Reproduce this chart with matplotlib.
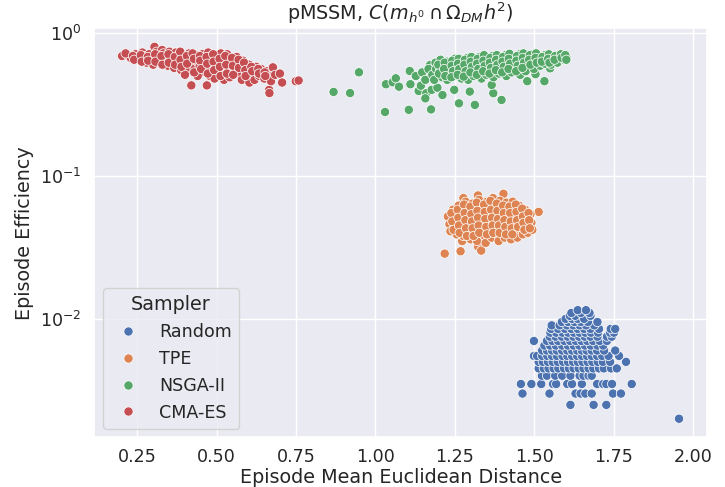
import numpy as np
import pandas as pd
import seaborn as sns
import matplotlib
matplotlib.use('Agg')
import matplotlib.pyplot as plt

# values (x = mean euclidean distance, y = efficiency)

# Random: discrete efficiency levels, x positions on each level
random_levels = [0.002, 0.0025, 0.003, 0.0035, 0.004, 0.0045, 0.005, 0.0055, 0.006,
                 0.0065, 0.007, 0.0075, 0.008, 0.0085, 0.009, 0.0095, 0.01, 0.0105,
                 0.011, 0.0115]
random_rows = [
    [1.956],
    [1.614, 1.687, 1.727],
    [1.463, 1.548, 1.630, 1.646, 1.661, 1.681, 1.748, 1.773],
    [1.458, 1.491, 1.522, 1.559, 1.569, 1.604, 1.619, 1.650, 1.698, 1.717, 1.727, 1.745, 1.807],
    [1.524, 1.540, 1.566, 1.588, 1.614, 1.643, 1.655, 1.671, 1.681],
    [1.514, 1.530, 1.545, 1.561, 1.576, 1.594, 1.609, 1.624, 1.640, 1.655, 1.671, 1.686,
     1.704, 1.719, 1.742, 1.760],
    [1.514, 1.527, 1.543, 1.558, 1.574, 1.591, 1.606, 1.622, 1.637, 1.652, 1.668, 1.683,
     1.700, 1.716, 1.739, 1.789],
    [1.499, 1.509, 1.525, 1.541, 1.556, 1.571, 1.589, 1.604, 1.619, 1.635, 1.650, 1.666,
     1.681, 1.698, 1.714, 1.734, 1.767],
    [1.525, 1.540, 1.556, 1.571, 1.588, 1.604, 1.619, 1.635, 1.650, 1.665, 1.681, 1.698,
     1.720, 1.755],
    [1.532, 1.550, 1.568, 1.588, 1.606, 1.624, 1.642, 1.660, 1.678, 1.699, 1.717],
    [1.499, 1.540, 1.557, 1.575, 1.595, 1.613, 1.631, 1.649, 1.667, 1.685, 1.706, 1.729],
    [1.549, 1.567, 1.587, 1.605, 1.623, 1.641, 1.659, 1.677, 1.699, 1.729, 1.744],
    [1.551, 1.569, 1.589, 1.607, 1.625, 1.643, 1.661, 1.679, 1.701, 1.739, 1.751],
    [1.553, 1.575, 1.597, 1.617, 1.637, 1.657, 1.677, 1.704, 1.741, 1.755],
    [1.555, 1.580, 1.603, 1.623, 1.643, 1.663, 1.689],
    [1.587, 1.607, 1.627, 1.647, 1.669, 1.699],
    [1.599, 1.619, 1.637, 1.657],
    [1.612, 1.629, 1.677],
    [1.617, 1.647, 1.674],
    [1.637, 1.663],
]

tpe_pts = [
    (1.218, 0.0286), (1.268, 0.0297), (1.273, 0.035), (1.323, 0.032), (1.333, 0.030),
    (1.514, 0.056), (1.403, 0.075), (1.323, 0.073), (1.277, 0.070),
    (1.228, 0.052), (1.233, 0.046), (1.236, 0.041), (1.244, 0.058), (1.249, 0.050),
    (1.252, 0.044), (1.256, 0.039), (1.262, 0.062), (1.266, 0.055), (1.269, 0.048),
    (1.273, 0.043), (1.277, 0.038), (1.284, 0.066), (1.287, 0.058), (1.290, 0.052),
    (1.293, 0.046), (1.296, 0.041), (1.300, 0.036), (1.305, 0.064), (1.308, 0.057),
    (1.311, 0.050), (1.314, 0.045), (1.317, 0.040), (1.320, 0.035), (1.326, 0.068),
    (1.329, 0.060), (1.335, 0.054), (1.338, 0.048), (1.341, 0.043), (1.344, 0.038),
    (1.347, 0.034), (1.351, 0.066), (1.354, 0.059), (1.357, 0.052), (1.360, 0.047),
    (1.363, 0.042), (1.366, 0.037), (1.370, 0.070), (1.373, 0.062), (1.376, 0.055),
    (1.379, 0.049), (1.382, 0.044), (1.385, 0.039), (1.388, 0.035), (1.392, 0.067),
    (1.395, 0.060), (1.398, 0.053), (1.401, 0.047), (1.404, 0.042), (1.407, 0.037),
    (1.412, 0.065), (1.415, 0.058), (1.418, 0.051), (1.421, 0.046), (1.424, 0.041),
    (1.427, 0.036), (1.432, 0.066), (1.435, 0.059), (1.438, 0.052), (1.441, 0.046),
    (1.444, 0.041), (1.447, 0.037), (1.452, 0.062), (1.455, 0.055), (1.458, 0.049),
    (1.461, 0.044), (1.464, 0.039), (1.471, 0.058), (1.474, 0.051), (1.477, 0.045),
    (1.480, 0.040), (1.488, 0.054), (1.491, 0.047), (1.494, 0.042),
    (1.239, 0.055), (1.242, 0.048), (1.246, 0.042), (1.259, 0.058), (1.261, 0.051),
    (1.263, 0.045), (1.265, 0.040), (1.279, 0.063), (1.281, 0.055), (1.283, 0.049),
    (1.285, 0.043), (1.288, 0.038), (1.299, 0.061), (1.302, 0.054), (1.304, 0.048),
    (1.306, 0.043), (1.309, 0.038), (1.319, 0.065), (1.321, 0.057), (1.323, 0.051),
    (1.325, 0.045), (1.327, 0.040), (1.342, 0.063), (1.344, 0.056), (1.346, 0.050),
    (1.349, 0.044), (1.351, 0.039), (1.362, 0.067), (1.364, 0.058), (1.367, 0.051),
    (1.369, 0.045), (1.371, 0.040), (1.382, 0.064), (1.384, 0.057), (1.386, 0.050),
    (1.389, 0.045), (1.391, 0.040), (1.402, 0.062), (1.404, 0.055), (1.406, 0.049),
    (1.409, 0.044), (1.411, 0.039), (1.422, 0.061), (1.424, 0.055), (1.426, 0.048),
    (1.429, 0.043), (1.431, 0.039), (1.442, 0.063), (1.444, 0.056), (1.446, 0.049),
    (1.449, 0.044), (1.462, 0.059), (1.464, 0.052), (1.466, 0.047), (1.469, 0.042),
    (1.482, 0.055), (1.484, 0.049), (1.486, 0.043),
]

nsga_pts = [
    # sparse points on the left and below the main band
    (0.868, 0.387), (0.920, 0.380), (0.948, 0.531), (1.030, 0.280), (1.105, 0.290),
    (1.175, 0.292), (1.263, 0.322), (1.313, 0.314), (1.033, 0.438), (1.054, 0.452),
    (1.064, 0.482), (1.074, 0.421), (1.108, 0.542), (1.110, 0.438), (1.136, 0.393),
    (1.143, 0.428), (1.160, 0.379), (1.157, 0.349), (1.177, 0.400), (1.195, 0.414),
    (1.211, 0.368), (1.172, 0.597), (1.248, 0.400), (1.297, 0.389), (1.371, 0.379),
    (1.397, 0.340), (1.366, 0.433), (1.478, 0.460), (1.532, 0.460), (1.504, 0.515),
    (1.550, 0.566), (1.127, 0.500), (1.147, 0.530), (1.157, 0.470), (1.167, 0.560),
    (1.179, 0.510),
    # main band
    (1.189, 0.620), (1.191, 0.560), (1.185, 0.470), (1.205, 0.650), (1.208, 0.590),
    (1.203, 0.540), (1.210, 0.490), (1.225, 0.630), (1.233, 0.570), (1.236, 0.520),
    (1.226, 0.470), (1.250, 0.660), (1.253, 0.600), (1.255, 0.550), (1.249, 0.500),
    (1.269, 0.640), (1.273, 0.580), (1.275, 0.530), (1.271, 0.480), (1.290, 0.670),
    (1.293, 0.610), (1.288, 0.560), (1.294, 0.510), (1.292, 0.470), (1.310, 0.650),
    (1.313, 0.600), (1.315, 0.550), (1.309, 0.500), (1.329, 0.680), (1.333, 0.630),
    (1.335, 0.580), (1.330, 0.530), (1.334, 0.480), (1.350, 0.660), (1.353, 0.610),
    (1.355, 0.560), (1.349, 0.510), (1.369, 0.690), (1.373, 0.640), (1.370, 0.590),
    (1.375, 0.540), (1.372, 0.490), (1.390, 0.670), (1.393, 0.620), (1.395, 0.570),
    (1.389, 0.520), (1.410, 0.700), (1.413, 0.650), (1.409, 0.600), (1.415, 0.550),
    (1.412, 0.500), (1.430, 0.680), (1.437, 0.630), (1.439, 0.580), (1.429, 0.530),
    (1.454, 0.710), (1.457, 0.660), (1.453, 0.610), (1.459, 0.560), (1.456, 0.510),
    (1.474, 0.690), (1.477, 0.640), (1.479, 0.590), (1.473, 0.540), (1.494, 0.710),
    (1.497, 0.660), (1.493, 0.610), (1.499, 0.560), (1.514, 0.690), (1.517, 0.640),
    (1.519, 0.590), (1.534, 0.700), (1.537, 0.660), (1.533, 0.610), (1.554, 0.680),
    (1.557, 0.640), (1.553, 0.600), (1.574, 0.700), (1.577, 0.660), (1.573, 0.620),
    (1.591, 0.690), (1.594, 0.650), (1.602, 0.670),
    (1.198, 0.600), (1.200, 0.520), (1.218, 0.620), (1.216, 0.560), (1.220, 0.500),
    (1.242, 0.640), (1.240, 0.590), (1.244, 0.540), (1.239, 0.490), (1.262, 0.660),
    (1.260, 0.610), (1.264, 0.560), (1.259, 0.510), (1.282, 0.650), (1.280, 0.600),
    (1.284, 0.540), (1.278, 0.495), (1.302, 0.680), (1.300, 0.630), (1.304, 0.580),
    (1.299, 0.530), (1.322, 0.660), (1.320, 0.610), (1.324, 0.560), (1.319, 0.510),
    (1.342, 0.700), (1.340, 0.640), (1.344, 0.590), (1.339, 0.540), (1.362, 0.670),
    (1.360, 0.620), (1.364, 0.570), (1.359, 0.520), (1.382, 0.700), (1.380, 0.650),
    (1.384, 0.600), (1.379, 0.550), (1.402, 0.680), (1.400, 0.630), (1.404, 0.580),
    (1.399, 0.530), (1.422, 0.715), (1.420, 0.660), (1.424, 0.610), (1.419, 0.560),
    (1.446, 0.690), (1.444, 0.640), (1.448, 0.590), (1.443, 0.540), (1.466, 0.720),
    (1.464, 0.670), (1.468, 0.620), (1.463, 0.570), (1.486, 0.700), (1.484, 0.650),
    (1.488, 0.600), (1.506, 0.720), (1.504, 0.670), (1.508, 0.620), (1.526, 0.680),
    (1.524, 0.630), (1.546, 0.710), (1.544, 0.660), (1.548, 0.620), (1.566, 0.690),
    (1.564, 0.650), (1.584, 0.710), (1.586, 0.670), (1.598, 0.700), (1.601, 0.650),
]

cma_pts = [
    (0.202, 0.69), (0.220, 0.70), (0.229, 0.67), (0.244, 0.71), (0.251, 0.68),
    (0.257, 0.65), (0.266, 0.73), (0.270, 0.69), (0.276, 0.66), (0.279, 0.62),
    (0.287, 0.71), (0.292, 0.67), (0.296, 0.64), (0.300, 0.60), (0.304, 0.80),
    (0.311, 0.74), (0.315, 0.70), (0.319, 0.66), (0.323, 0.62), (0.328, 0.76),
    (0.332, 0.72), (0.337, 0.68), (0.341, 0.64), (0.346, 0.59), (0.351, 0.74),
    (0.355, 0.70), (0.359, 0.66), (0.362, 0.62), (0.366, 0.57), (0.371, 0.73),
    (0.376, 0.69), (0.379, 0.65), (0.383, 0.61), (0.388, 0.55), (0.392, 0.71),
    (0.396, 0.67), (0.400, 0.63), (0.404, 0.59), (0.409, 0.54), (0.400, 0.51),
    (0.413, 0.72), (0.417, 0.68), (0.420, 0.43), (0.422, 0.64), (0.426, 0.60),
    (0.430, 0.56), (0.434, 0.70), (0.438, 0.66), (0.442, 0.62), (0.446, 0.58),
    (0.450, 0.53), (0.440, 0.50), (0.455, 0.71), (0.459, 0.67), (0.466, 0.63),
    (0.469, 0.43), (0.471, 0.59), (0.475, 0.55), (0.479, 0.50), (0.473, 0.73),
    (0.483, 0.69), (0.487, 0.65), (0.491, 0.61), (0.495, 0.57), (0.499, 0.52),
    (0.493, 0.48), (0.503, 0.68), (0.507, 0.64), (0.511, 0.60), (0.513, 0.72),
    (0.515, 0.56), (0.520, 0.51), (0.523, 0.47), (0.525, 0.66), (0.529, 0.62),
    (0.533, 0.71), (0.533, 0.58), (0.537, 0.54), (0.541, 0.49), (0.546, 0.65),
    (0.550, 0.61), (0.554, 0.57), (0.558, 0.53), (0.563, 0.68), (0.563, 0.63),
    (0.567, 0.59), (0.571, 0.55), (0.575, 0.51), (0.579, 0.47), (0.583, 0.64),
    (0.584, 0.61), (0.588, 0.57), (0.592, 0.53), (0.597, 0.49), (0.602, 0.60),
    (0.603, 0.45), (0.607, 0.56), (0.611, 0.52), (0.619, 0.47), (0.624, 0.58),
    (0.629, 0.54), (0.634, 0.50), (0.640, 0.56), (0.645, 0.52), (0.650, 0.48),
    (0.657, 0.54), (0.663, 0.50), (0.665, 0.40), (0.666, 0.38), (0.671, 0.46),
    (0.677, 0.575), (0.684, 0.51), (0.699, 0.52), (0.706, 0.45), (0.749, 0.46),
    (0.758, 0.465),
    (0.213, 0.72), (0.236, 0.69), (0.240, 0.65), (0.261, 0.70), (0.264, 0.63),
    (0.283, 0.68), (0.284, 0.64), (0.306, 0.71), (0.307, 0.63), (0.326, 0.69),
    (0.329, 0.60), (0.348, 0.71), (0.349, 0.62), (0.368, 0.68), (0.369, 0.60),
    (0.385, 0.74), (0.386, 0.65), (0.389, 0.58), (0.406, 0.69), (0.407, 0.61),
    (0.424, 0.72), (0.428, 0.66), (0.429, 0.53), (0.447, 0.69), (0.448, 0.64),
    (0.451, 0.56), (0.468, 0.68), (0.470, 0.61), (0.472, 0.52), (0.489, 0.71),
    (0.490, 0.63), (0.492, 0.55), (0.509, 0.66), (0.510, 0.58), (0.512, 0.50),
    (0.527, 0.69), (0.530, 0.60), (0.532, 0.52), (0.548, 0.67), (0.551, 0.59),
    (0.552, 0.51), (0.569, 0.65), (0.570, 0.57), (0.586, 0.62), (0.590, 0.55),
    (0.591, 0.50), (0.609, 0.58), (0.612, 0.54), (0.631, 0.56), (0.633, 0.52),
    (0.651, 0.53), (0.653, 0.50),
]

samplers = ['Random', 'TPE', 'NSGA-II', 'CMA-ES']

rows = []
for lvl, xs in zip(random_levels, random_rows):
    for x in xs:
        rows.append((x, lvl, 'Random'))
for name, pts in [('TPE', tpe_pts), ('NSGA-II', nsga_pts), ('CMA-ES', cma_pts)]:
    for x, y in pts:
        rows.append((x, y, name))
df = pd.DataFrame(rows, columns=['dist', 'eff', 'Sampler'])

sns.set_theme(style='darkgrid', font_scale=1.15)
plt.rcParams['xtick.major.pad'] = 2
fig, ax = plt.subplots(figsize=(7.25, 4.87), dpi=100)
sns.scatterplot(data=df, x='dist', y='eff', hue='Sampler', hue_order=samplers, s=44, ax=ax)
ax.set_yscale('log')
ax.set_xlabel('Episode Mean Euclidean Distance', labelpad=1)
ax.set_ylabel('Episode Efficiency')
ax.set_title(r'pMSSM, $C(m_{h^0} \cap \Omega_{DM}h^2)$')
ax.legend(title='Sampler', loc='lower left')

plt.subplots_adjust(left=0.13, right=0.975, top=0.942, bottom=0.102)
plt.savefig('out.png', dpi=100)
